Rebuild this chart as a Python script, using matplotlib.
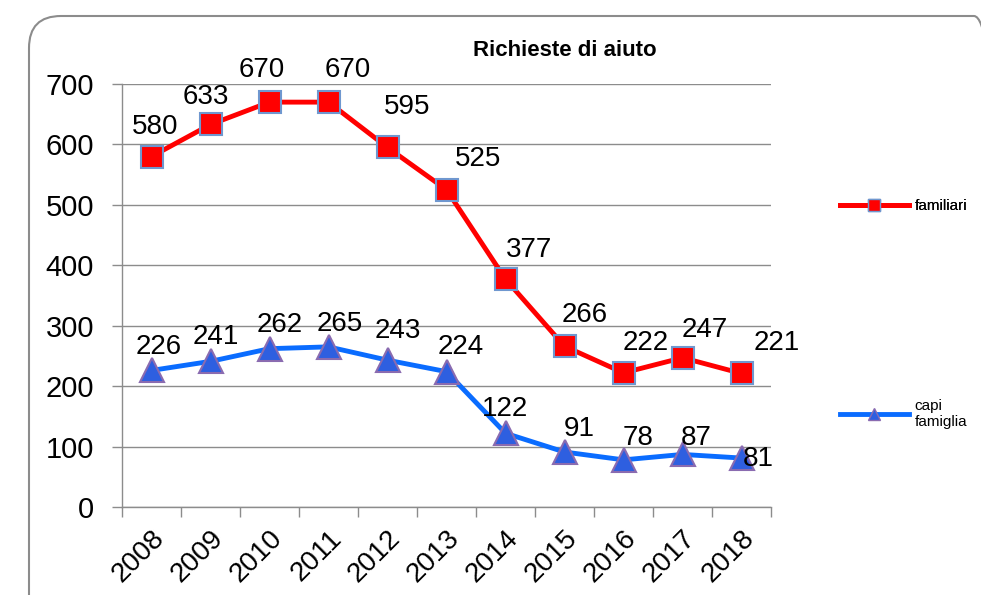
import matplotlib.pyplot as plt
from matplotlib.patches import FancyBboxPatch
from matplotlib.lines import Line2D

plt.rcParams['font.family'] = ['Liberation Sans', 'DejaVu Sans']

years = ['2008', '2009', '2010', '2011', '2012', '2013', '2014', '2015', '2016', '2017', '2018']
familiari = [580, 633, 670, 670, 595, 525, 377, 266, 222, 247, 221]
capi_famiglia = [226, 241, 262, 265, 243, 224, 122, 91, 78, 87, 81]

# label offsets in pixels (dx, dy) relative to each point
fam_offsets = [(4, 30), (-5, 27), (-8, 32), (19, 32), (20, 40), (32, 31), (24, 29), (20, 31), (22, 30), (22, 28), (35, 30)]
capi_offsets = [(7, 23), (5, 24), (10, 24), (11, 23), (10, 29), (14, 25), (-1, 24), (15, 23), (15, 22), (14, 16), (17, -1)]

fig = plt.figure(figsize=(9.81, 5.95), dpi=100)

# rounded frame around the chart (pixel coordinates, runs off right and bottom)
frame = FancyBboxPatch((29, -60), 1006 - 29, 595 - 16 + 60,
                       boxstyle="round,pad=0,rounding_size=32",
                       transform=None, facecolor='none',
                       edgecolor='#8c8c8c', linewidth=1.5)
fig.patches.append(frame)

ax = fig.add_axes([122 / 981, 1 - 507 / 595, (771 - 122) / 981, (507 - 84) / 595])

x = list(range(len(years)))
ax.plot(x, familiari, color='#ff0000', linewidth=3.5, marker='s', markersize=16,
        markerfacecolor='#ff0000', markeredgecolor='#6f97cf', markeredgewidth=1.5, zorder=3)
ax.plot(x, capi_famiglia, color='#0a6cff', linewidth=3.5, marker='^', markersize=17,
        markerfacecolor='#2e5fe0', markeredgecolor='#8a6bb0', markeredgewidth=1.5, zorder=3)

for i, v in enumerate(familiari):
    ax.annotate(str(v), (i, v), xytext=fam_offsets[i], textcoords='offset pixels',
                ha='center', va='center', fontsize=20)
for i, v in enumerate(capi_famiglia):
    ax.annotate(str(v), (i, v), xytext=capi_offsets[i], textcoords='offset pixels',
                ha='center', va='center', fontsize=20)

ax.set_xlim(-0.5, len(years) - 0.5)
ax.set_ylim(0, 700)
ax.set_yticks(range(0, 701, 100))
ax.yaxis.grid(True, color='#8c8c8c', linewidth=1)
ax.set_axisbelow(True)

ax.set_xticks(x)
ax.set_xticklabels(years, rotation=45, ha='right', rotation_mode='anchor', fontsize=20)
ax.tick_params(axis='x', length=0, pad=13)
ax.set_xticks([i - 0.5 for i in range(len(years) + 1)], minor=True)
ax.tick_params(axis='x', which='minor', length=7, color='#8c8c8c', width=1)
ax.tick_params(axis='y', length=7, color='#8c8c8c', width=1, labelsize=21, pad=13)

for s in ['top', 'right']:
    ax.spines[s].set_visible(False)
for s in ['left', 'bottom']:
    ax.spines[s].set_color('#8c8c8c')
    ax.spines[s].set_linewidth(1)

fig.text(565 / 981, 1 - 50 / 595, 'Richieste di aiuto', ha='center', va='center',
         fontsize=16, fontweight='bold')

# legend entries placed by hand
h1 = Line2D([], [], color='#ff0000', linewidth=3.5, marker='s', markersize=8,
            markerfacecolor='#ff0000', markeredgecolor='#6f97cf')
h2 = Line2D([], [], color='#0a6cff', linewidth=3.5, marker='^', markersize=8,
            markerfacecolor='#2e5fe0', markeredgecolor='#8a6bb0')
leg1 = fig.legend([h1], ['familiari'], loc='center left', bbox_to_anchor=(826 / 981, 1 - 206 / 595),
                  frameon=False, fontsize=11, handlelength=4.5, handletextpad=0.4)
leg2 = fig.legend([h2], ['capi\nfamiglia'], loc='center left', bbox_to_anchor=(826 / 981, 1 - 414 / 595),
                  frameon=False, fontsize=11, handlelength=4.5, handletextpad=0.4)
fig.add_artist(leg1)

fig.savefig('out.png', dpi=100)
